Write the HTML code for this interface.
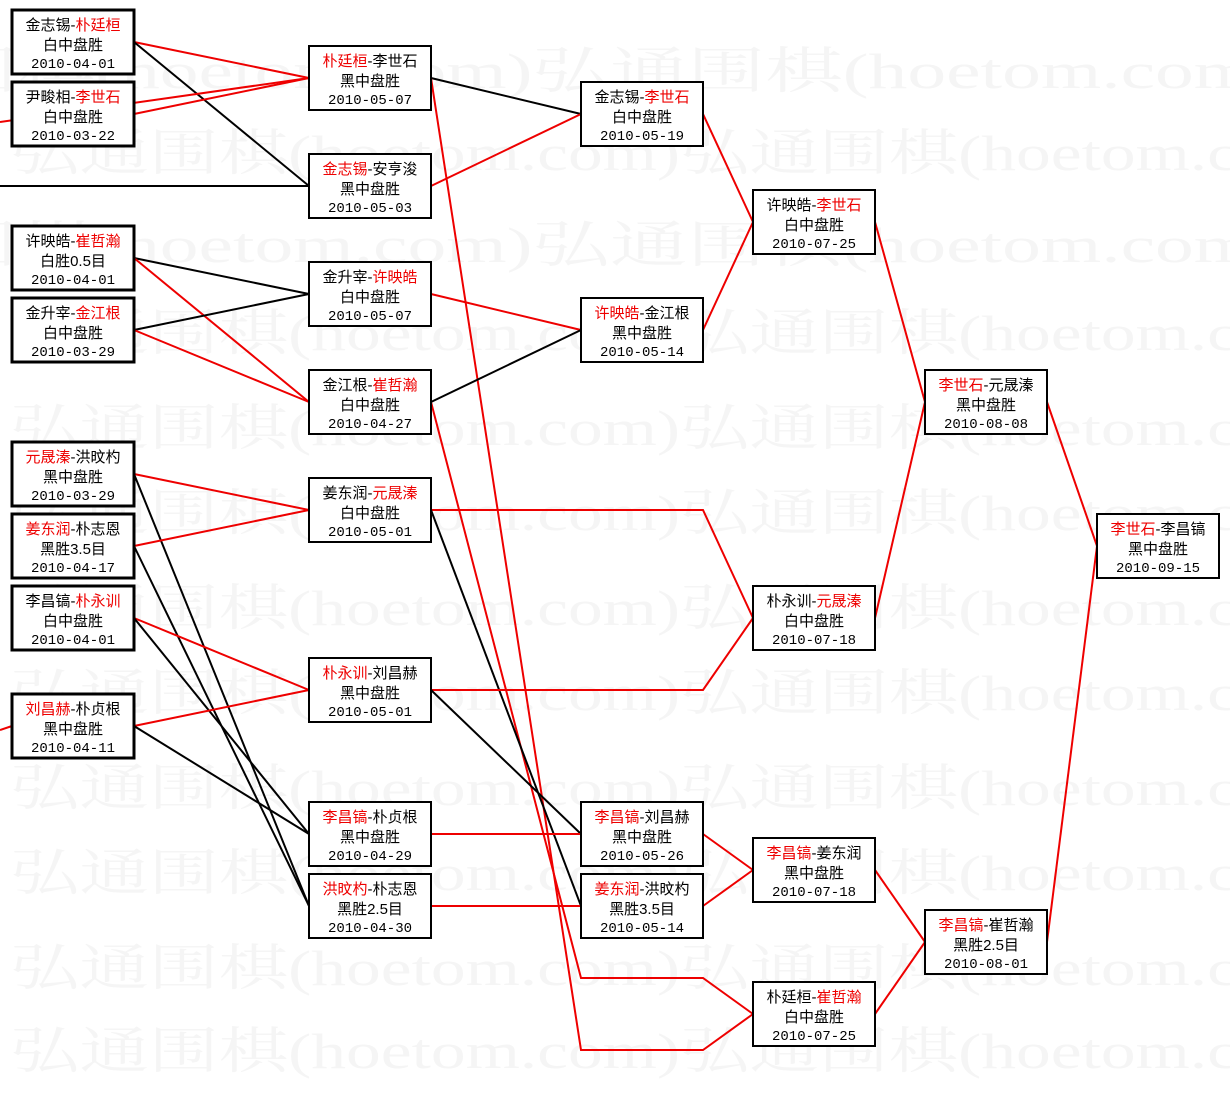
<!DOCTYPE html>
<html><head><meta charset="utf-8">
<style>
html,body{margin:0;padding:0;background:#fff;}
svg{display:block;}
.wm{font-family:"Liberation Serif","Noto Serif CJK SC",serif;font-size:50px;fill:#f5f5f5;}
.t{font-family:"Liberation Sans","Noto Sans CJK SC",sans-serif;font-size:15px;fill:#000;text-anchor:middle;}
.d{font-family:"Liberation Mono",monospace;font-size:14px;}
.r{fill:#e00;}
.b{fill:#fff;stroke:#000;stroke-width:2;}
.b3{fill:#fff;stroke:#000;stroke-width:3;}
.lr{stroke:#e00;stroke-width:2;fill:none;}
.lk{stroke:#000;stroke-width:2;fill:none;}
</style></head><body>
<svg width="1230" height="1093" xmlns="http://www.w3.org/2000/svg">
<g class="wm">
<text x="-60" y="88" textLength="1340" lengthAdjust="spacingAndGlyphs">围棋(hoetom.com)弘通围棋(hoetom.com)</text>
<text x="10" y="170" textLength="1340" lengthAdjust="spacingAndGlyphs">弘通围棋(hoetom.com)弘通围棋(hoetom.com)</text>
<text x="-60" y="262" textLength="1340" lengthAdjust="spacingAndGlyphs">围棋(hoetom.com)弘通围棋(hoetom.com)</text>
<text x="10" y="350" textLength="1340" lengthAdjust="spacingAndGlyphs">弘通围棋(hoetom.com)弘通围棋(hoetom.com)</text>
<text x="10" y="445" textLength="1340" lengthAdjust="spacingAndGlyphs">弘通围棋(hoetom.com)弘通围棋(hoetom.com)</text>
<text x="10" y="530" textLength="1340" lengthAdjust="spacingAndGlyphs">弘通围棋(hoetom.com)弘通围棋(hoetom.com)</text>
<text x="10" y="625" textLength="1340" lengthAdjust="spacingAndGlyphs">弘通围棋(hoetom.com)弘通围棋(hoetom.com)</text>
<text x="10" y="710" textLength="1340" lengthAdjust="spacingAndGlyphs">弘通围棋(hoetom.com)弘通围棋(hoetom.com)</text>
<text x="10" y="805" textLength="1340" lengthAdjust="spacingAndGlyphs">弘通围棋(hoetom.com)弘通围棋(hoetom.com)</text>
<text x="10" y="890" textLength="1340" lengthAdjust="spacingAndGlyphs">弘通围棋(hoetom.com)弘通围棋(hoetom.com)</text>
<text x="10" y="985" textLength="1340" lengthAdjust="spacingAndGlyphs">弘通围棋(hoetom.com)弘通围棋(hoetom.com)</text>
<text x="10" y="1068" textLength="1340" lengthAdjust="spacingAndGlyphs">弘通围棋(hoetom.com)弘通围棋(hoetom.com)</text>
</g>
<g>
<line class="lr" x1="134" y1="42" x2="309" y2="78"/>
<line class="lk" x1="134" y1="42" x2="309" y2="186"/>
<line class="lr" x1="134" y1="114" x2="309" y2="78"/>
<line class="lr" x1="0" y1="122" x2="309" y2="78"/>
<line class="lk" x1="0" y1="186" x2="309" y2="186"/>
<line class="lk" x1="134" y1="258" x2="309" y2="294"/>
<line class="lr" x1="134" y1="258" x2="309" y2="402"/>
<line class="lk" x1="134" y1="330" x2="309" y2="294"/>
<line class="lr" x1="134" y1="330" x2="309" y2="402"/>
<line class="lr" x1="134" y1="474" x2="309" y2="510"/>
<line class="lk" x1="134" y1="474" x2="309" y2="906"/>
<line class="lr" x1="134" y1="546" x2="309" y2="510"/>
<line class="lk" x1="134" y1="546" x2="309" y2="906"/>
<line class="lr" x1="134" y1="618" x2="309" y2="690"/>
<line class="lk" x1="134" y1="618" x2="309" y2="834"/>
<line class="lr" x1="134" y1="726" x2="309" y2="690"/>
<line class="lk" x1="134" y1="726" x2="309" y2="834"/>
<line class="lr" x1="0" y1="730" x2="12" y2="726"/>
<line class="lk" x1="431" y1="78" x2="581" y2="114"/>
<polyline class="lr" points="431,78 581,1050 703,1050 753,1014"/>
<line class="lr" x1="431" y1="186" x2="581" y2="114"/>
<line class="lr" x1="431" y1="294" x2="581" y2="330"/>
<line class="lk" x1="431" y1="402" x2="581" y2="330"/>
<polyline class="lr" points="431,402 581,978 703,978 753,1014"/>
<polyline class="lr" points="431,510 703,510 753,618"/>
<line class="lk" x1="431" y1="510" x2="581" y2="906"/>
<polyline class="lr" points="431,690 703,690 753,618"/>
<line class="lk" x1="431" y1="690" x2="581" y2="834"/>
<line class="lr" x1="431" y1="834" x2="581" y2="834"/>
<line class="lr" x1="431" y1="906" x2="581" y2="906"/>
<line class="lr" x1="703" y1="114" x2="753" y2="222"/>
<line class="lr" x1="703" y1="330" x2="753" y2="222"/>
<line class="lr" x1="703" y1="834" x2="753" y2="870"/>
<line class="lr" x1="703" y1="906" x2="753" y2="870"/>
<line class="lr" x1="875" y1="222" x2="925" y2="402"/>
<line class="lr" x1="875" y1="618" x2="925" y2="402"/>
<line class="lr" x1="875" y1="870" x2="925" y2="942"/>
<line class="lr" x1="875" y1="1014" x2="925" y2="942"/>
<line class="lr" x1="1047" y1="402" x2="1097" y2="546"/>
<line class="lr" x1="1047" y1="942" x2="1097" y2="546"/>
</g>
<g>
<rect class="b3" x="12" y="10" width="122" height="64"/>
<text class="t" x="73" y="30">金志锡-<tspan class="r">朴廷桓</tspan></text><text class="t" x="73" y="50">白中盘胜</text><text class="t d" x="73" y="68">2010-04-01</text>
<rect class="b3" x="12" y="82" width="122" height="64"/>
<text class="t" x="73" y="102">尹畯相-<tspan class="r">李世石</tspan></text><text class="t" x="73" y="122">白中盘胜</text><text class="t d" x="73" y="140">2010-03-22</text>
<rect class="b3" x="12" y="226" width="122" height="64"/>
<text class="t" x="73" y="246">许映皓-<tspan class="r">崔哲瀚</tspan></text><text class="t" x="73" y="266">白胜0.5目</text><text class="t d" x="73" y="284">2010-04-01</text>
<rect class="b3" x="12" y="298" width="122" height="64"/>
<text class="t" x="73" y="318">金升宰-<tspan class="r">金江根</tspan></text><text class="t" x="73" y="338">白中盘胜</text><text class="t d" x="73" y="356">2010-03-29</text>
<rect class="b3" x="12" y="442" width="122" height="64"/>
<text class="t" x="73" y="462"><tspan class="r">元晟溱</tspan>-洪旼杓</text><text class="t" x="73" y="482">黑中盘胜</text><text class="t d" x="73" y="500">2010-03-29</text>
<rect class="b3" x="12" y="514" width="122" height="64"/>
<text class="t" x="73" y="534"><tspan class="r">姜东润</tspan>-朴志恩</text><text class="t" x="73" y="554">黑胜3.5目</text><text class="t d" x="73" y="572">2010-04-17</text>
<rect class="b3" x="12" y="586" width="122" height="64"/>
<text class="t" x="73" y="606">李昌镐-<tspan class="r">朴永训</tspan></text><text class="t" x="73" y="626">白中盘胜</text><text class="t d" x="73" y="644">2010-04-01</text>
<rect class="b3" x="12" y="694" width="122" height="64"/>
<text class="t" x="73" y="714"><tspan class="r">刘昌赫</tspan>-朴贞根</text><text class="t" x="73" y="734">黑中盘胜</text><text class="t d" x="73" y="752">2010-04-11</text>
</g>
<g>
<rect class="b" x="309" y="46" width="122" height="64"/>
<text class="t" x="370" y="66"><tspan class="r">朴廷桓</tspan>-李世石</text><text class="t" x="370" y="86">黑中盘胜</text><text class="t d" x="370" y="104">2010-05-07</text>
<rect class="b" x="309" y="154" width="122" height="64"/>
<text class="t" x="370" y="174"><tspan class="r">金志锡</tspan>-安亨浚</text><text class="t" x="370" y="194">黑中盘胜</text><text class="t d" x="370" y="212">2010-05-03</text>
<rect class="b" x="309" y="262" width="122" height="64"/>
<text class="t" x="370" y="282">金升宰-<tspan class="r">许映皓</tspan></text><text class="t" x="370" y="302">白中盘胜</text><text class="t d" x="370" y="320">2010-05-07</text>
<rect class="b" x="309" y="370" width="122" height="64"/>
<text class="t" x="370" y="390">金江根-<tspan class="r">崔哲瀚</tspan></text><text class="t" x="370" y="410">白中盘胜</text><text class="t d" x="370" y="428">2010-04-27</text>
<rect class="b" x="309" y="478" width="122" height="64"/>
<text class="t" x="370" y="498">姜东润-<tspan class="r">元晟溱</tspan></text><text class="t" x="370" y="518">白中盘胜</text><text class="t d" x="370" y="536">2010-05-01</text>
<rect class="b" x="309" y="658" width="122" height="64"/>
<text class="t" x="370" y="678"><tspan class="r">朴永训</tspan>-刘昌赫</text><text class="t" x="370" y="698">黑中盘胜</text><text class="t d" x="370" y="716">2010-05-01</text>
<rect class="b" x="309" y="802" width="122" height="64"/>
<text class="t" x="370" y="822"><tspan class="r">李昌镐</tspan>-朴贞根</text><text class="t" x="370" y="842">黑中盘胜</text><text class="t d" x="370" y="860">2010-04-29</text>
<rect class="b" x="309" y="874" width="122" height="64"/>
<text class="t" x="370" y="894"><tspan class="r">洪旼杓</tspan>-朴志恩</text><text class="t" x="370" y="914">黑胜2.5目</text><text class="t d" x="370" y="932">2010-04-30</text>
</g>
<g>
<rect class="b" x="581" y="82" width="122" height="64"/>
<text class="t" x="642" y="102">金志锡-<tspan class="r">李世石</tspan></text><text class="t" x="642" y="122">白中盘胜</text><text class="t d" x="642" y="140">2010-05-19</text>
<rect class="b" x="581" y="298" width="122" height="64"/>
<text class="t" x="642" y="318"><tspan class="r">许映皓</tspan>-金江根</text><text class="t" x="642" y="338">黑中盘胜</text><text class="t d" x="642" y="356">2010-05-14</text>
<rect class="b" x="581" y="802" width="122" height="64"/>
<text class="t" x="642" y="822"><tspan class="r">李昌镐</tspan>-刘昌赫</text><text class="t" x="642" y="842">黑中盘胜</text><text class="t d" x="642" y="860">2010-05-26</text>
<rect class="b" x="581" y="874" width="122" height="64"/>
<text class="t" x="642" y="894"><tspan class="r">姜东润</tspan>-洪旼杓</text><text class="t" x="642" y="914">黑胜3.5目</text><text class="t d" x="642" y="932">2010-05-14</text>
</g>
<g>
<rect class="b" x="753" y="190" width="122" height="64"/>
<text class="t" x="814" y="210">许映皓-<tspan class="r">李世石</tspan></text><text class="t" x="814" y="230">白中盘胜</text><text class="t d" x="814" y="248">2010-07-25</text>
<rect class="b" x="753" y="586" width="122" height="64"/>
<text class="t" x="814" y="606">朴永训-<tspan class="r">元晟溱</tspan></text><text class="t" x="814" y="626">白中盘胜</text><text class="t d" x="814" y="644">2010-07-18</text>
<rect class="b" x="753" y="838" width="122" height="64"/>
<text class="t" x="814" y="858"><tspan class="r">李昌镐</tspan>-姜东润</text><text class="t" x="814" y="878">黑中盘胜</text><text class="t d" x="814" y="896">2010-07-18</text>
<rect class="b" x="753" y="982" width="122" height="64"/>
<text class="t" x="814" y="1002">朴廷桓-<tspan class="r">崔哲瀚</tspan></text><text class="t" x="814" y="1022">白中盘胜</text><text class="t d" x="814" y="1040">2010-07-25</text>
</g>
<g>
<rect class="b" x="925" y="370" width="122" height="64"/>
<text class="t" x="986" y="390"><tspan class="r">李世石</tspan>-元晟溱</text><text class="t" x="986" y="410">黑中盘胜</text><text class="t d" x="986" y="428">2010-08-08</text>
<rect class="b" x="925" y="910" width="122" height="64"/>
<text class="t" x="986" y="930"><tspan class="r">李昌镐</tspan>-崔哲瀚</text><text class="t" x="986" y="950">黑胜2.5目</text><text class="t d" x="986" y="968">2010-08-01</text>
<rect class="b" x="1097" y="514" width="122" height="64"/>
<text class="t" x="1158" y="534"><tspan class="r">李世石</tspan>-李昌镐</text><text class="t" x="1158" y="554">黑中盘胜</text><text class="t d" x="1158" y="572">2010-09-15</text>
</g>
</svg>
</body></html>
